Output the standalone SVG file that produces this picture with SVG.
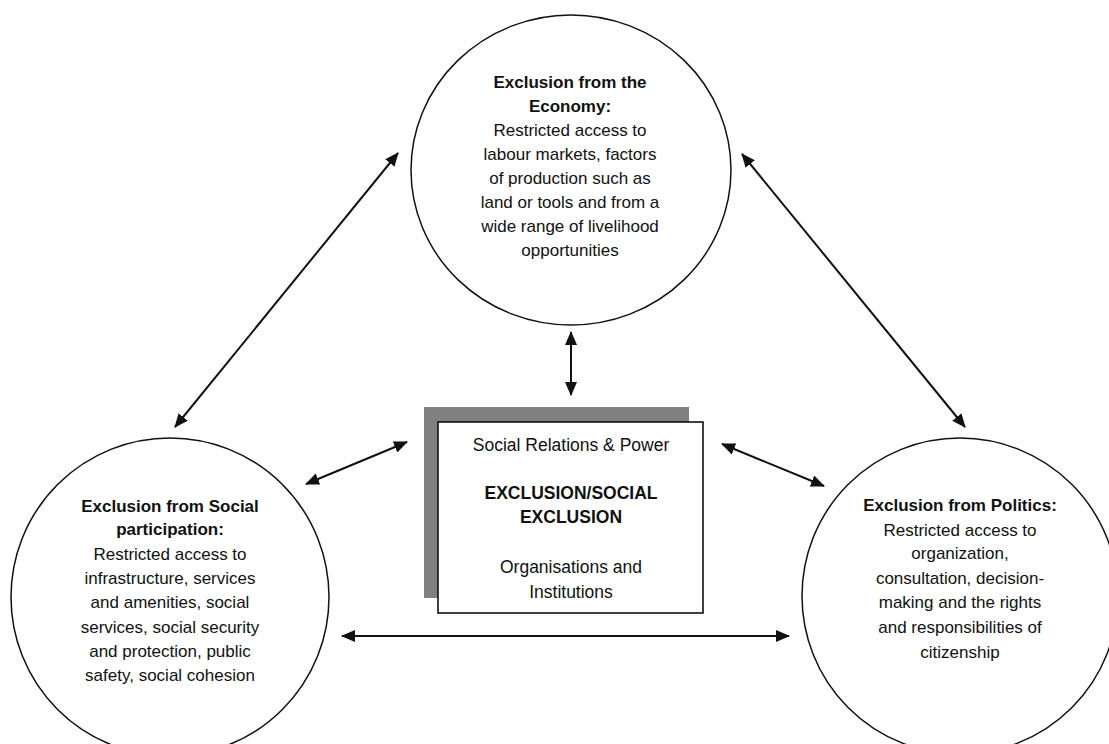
<svg xmlns="http://www.w3.org/2000/svg" width="1109" height="744" viewBox="0 0 1109 744">
<style>
.node{fill:#fff;stroke:#111;stroke-width:1.5}
.t{font-family:"Liberation Sans",Arial,sans-serif;font-size:17px;fill:#111;text-anchor:middle}
.b{font-weight:bold}
.bx{font-family:"Liberation Sans",Arial,sans-serif;font-size:17.5px;fill:#111;text-anchor:middle}
.conn{stroke:#111;stroke-width:2;fill:none;marker-start:url(#ah);marker-end:url(#ah)}
</style>
<defs>
<marker id="ah" viewBox="0 0 14 12" refX="13" refY="6" markerWidth="14" markerHeight="12" markerUnits="userSpaceOnUse" orient="auto-start-reverse">
<path d="M0,0 L14,6 L0,12 z" fill="#111"/>
</marker>
</defs>
<rect width="1109" height="744" fill="#fff"/>
<g id="economy">
<ellipse class="node" cx="571" cy="170" rx="160" ry="155"/>
<text class="t b" x="570" y="88">Exclusion from the</text>
<text class="t b" x="570" y="112">Economy:</text>
<text class="t" x="570" y="136">Restricted access to</text>
<text class="t" x="570" y="160">labour markets, factors</text>
<text class="t" x="570" y="184">of production such as</text>
<text class="t" x="570" y="208">land or tools and from a</text>
<text class="t" x="570" y="232">wide range of livelihood</text>
<text class="t" x="570" y="256">opportunities</text>
</g>
<g id="social">
<circle class="node" cx="170" cy="597" r="159"/>
<text class="t b" x="170" y="512">Exclusion from Social</text>
<text class="t b" x="170" y="535">participation:</text>
<text class="t" x="170" y="560">Restricted access to</text>
<text class="t" x="170" y="584">infrastructure, services</text>
<text class="t" x="170" y="608">and amenities, social</text>
<text class="t" x="170" y="633">services, social security</text>
<text class="t" x="170" y="657">and protection, public</text>
<text class="t" x="170" y="681">safety, social cohesion</text>
</g>
<g id="politics">
<circle class="node" cx="960" cy="596" r="158"/>
<text class="t b" x="960" y="511">Exclusion from Politics:</text>
<text class="t" x="960" y="536">Restricted access to</text>
<text class="t" x="960" y="559">organization,</text>
<text class="t" x="960" y="584">consultation, decision-</text>
<text class="t" x="960" y="608">making and the rights</text>
<text class="t" x="960" y="633">and responsibilities of</text>
<text class="t" x="960" y="658">citizenship</text>
</g>
<g id="center">
<rect x="424" y="407" width="265" height="191" fill="#808080"/>
<rect x="438" y="422" width="265" height="191" fill="#fff" stroke="#111" stroke-width="1.6"/>
<text class="bx" x="571" y="451">Social Relations &amp; Power</text>
<text class="bx b" x="571" y="499">EXCLUSION/SOCIAL</text>
<text class="bx b" x="571" y="523">EXCLUSION</text>
<text class="bx" x="571" y="573">Organisations and</text>
<text class="bx" x="571" y="598">Institutions</text>
</g>
<g id="connectors">
<line class="conn" x1="175" y1="427" x2="398" y2="153"/>
<line class="conn" x1="742" y1="154" x2="965" y2="427"/>
<line class="conn" x1="571" y1="332" x2="571" y2="395"/>
<line class="conn" x1="306" y1="484" x2="407" y2="442"/>
<line class="conn" x1="722" y1="444" x2="824" y2="486"/>
<line class="conn" x1="342" y1="636" x2="789" y2="636"/>
</g>
</svg>
